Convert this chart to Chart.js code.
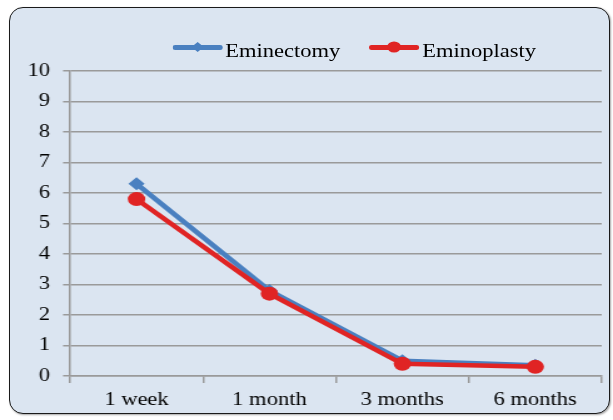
<!DOCTYPE html>
<html>
<head>
<meta charset="utf-8">
<script src="https://cdn.jsdelivr.net/npm/chart.js@4.4.1/dist/chart.umd.min.js"></script>
<style>
  body { margin: 0; background: #fff; }
  #frame {
    position: absolute; left: 9px; top: 7px; width: 601px; height: 407px;
    box-sizing: border-box; border: 1.5px solid #1a1a1a; border-radius: 14px;
    background: #dbe5f1; box-shadow: 1px 1px 2px rgba(0,0,0,0.35);
  }
  /* the reference is stretched sideways, so the chart is drawn narrow and widened */
  #wrap {
    position: absolute; left: 0; top: 0; width: 490px; height: 420px;
    transform: scaleX(1.251); transform-origin: 0 0;
  }
  #legend {
    position: absolute; left: 137.5px; top: 41px; display: flex;
    font-family: "Liberation Serif", "Times New Roman", serif; font-size: 18px;
    line-height: 20px; color: #000;
  }
  .item { display: flex; margin-right: 23px; }
  .swatch { position: relative; width: 40px; height: 20px; margin-right: 2.5px; }
  .swatch .line { position: absolute; left: 0; right: 0; top: 4px; height: 4.5px; border-radius: 2px; }
  .swatch .mark { position: absolute; left: 50%; top: 6.25px; transform: translate(-50%, -50%); }
</style>
</head>
<body>
<div id="frame"></div>
<div id="wrap">
  <canvas id="chart" width="490" height="420"></canvas>
  <div id="legend"></div>
</div>
<script>
// data
const periods = ["1 week", "1 month", "3 months", "6 months"];
const eminectomy = [6.3, 2.8, 0.5, 0.35];
const eminoplasty = [5.8, 2.7, 0.4, 0.3];
const seriesNames = ["Eminectomy", "Eminoplasty"];
const seriesColors = ["#4a80c0", "#e02424"];
const yTicks = [0, 1, 2, 3, 4, 5, 6, 7, 8, 9, 10];

const gridColor = "#9a9a9a";
const tickFont = { family: "'Liberation Serif', 'Times New Roman', serif", size: 18 };

const ctx = document.getElementById("chart");
new Chart(ctx, {
    type: "line",
    data: {
        labels: periods,
        datasets: [{
            label: seriesNames[0],
            data: eminectomy,
            borderColor: seriesColors[0],
            backgroundColor: seriesColors[0],
            borderWidth: 4.5,
            pointStyle: "rectRot",
            pointRadius: 6.5,
            pointBorderWidth: 0,
            order: 1
        }, {
            label: seriesNames[1],
            data: eminoplasty,
            borderColor: seriesColors[1],
            backgroundColor: seriesColors[1],
            borderWidth: 4.5,
            pointStyle: "circle",
            pointRadius: 7,
            pointBorderWidth: 0,
            order: 0
        }]
    },
    options: {
        responsive: false,
        animation: false,
        layout: { padding: { left: 0, right: 9, top: 71, bottom: 0 } },
        plugins: { legend: { display: false }, tooltip: { enabled: false } },
        scales: {
            x: {
                offset: true,
                grid: { offset: true, drawOnChartArea: false, color: gridColor, lineWidth: 1.5, tickLength: 7 },
                border: { color: gridColor, width: 1.5 },
                ticks: { font: tickFont, color: "#000", padding: 6 },
                afterFit: (scale) => { scale.height = 44; }
            },
            y: {
                min: yTicks[0],
                max: yTicks[yTicks.length - 1],
                afterBuildTicks: (scale) => { scale.ticks = yTicks.map(v => ({ value: v })); },
                grid: { color: gridColor, lineWidth: 1.5, tickLength: 5.6 },
                border: { color: gridColor, width: 1.5 },
                ticks: { font: tickFont, color: "#000", padding: 10.4 },
                afterFit: (scale) => { scale.width = 56; }
            }
        }
    }
});

// legend: line with marker, then the series name
const legend = document.getElementById("legend");
seriesNames.forEach((name, i) => {
    const item = document.createElement("div");
    item.className = "item";
    const swatch = document.createElement("div");
    swatch.className = "swatch";
    const line = document.createElement("div");
    line.className = "line";
    line.style.background = seriesColors[i];
    const mark = document.createElement("div");
    mark.className = "mark";
    mark.style.background = seriesColors[i];
    if (i === 0) {
        mark.style.width = "7px";
        mark.style.height = "7px";
        mark.style.transform = "translate(-50%, -50%) rotate(45deg)";
    } else {
        mark.style.width = "11px";
        mark.style.height = "11px";
        mark.style.borderRadius = "50%";
    }
    swatch.appendChild(line);
    swatch.appendChild(mark);
    const text = document.createElement("span");
    text.innerText = name;
    item.appendChild(swatch);
    item.appendChild(text);
    legend.appendChild(item);
});
</script>
</body>
</html>
